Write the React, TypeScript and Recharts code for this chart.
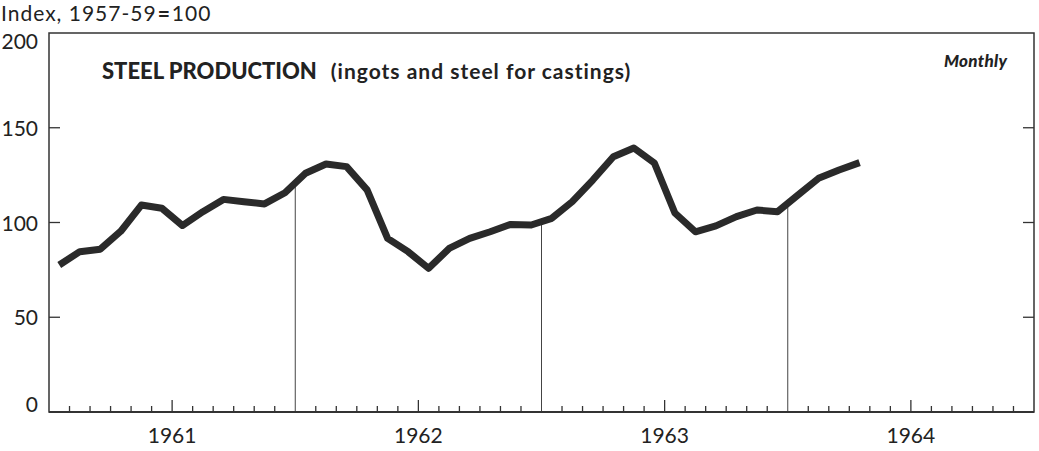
import { LineChart, Line, XAxis, YAxis, ReferenceArea, ReferenceLine } from "recharts";

// Monthly index, Jan 1961 - Apr 1964
const MONTHS_START = 1961;
const YEARS = [1961, 1962, 1963, 1964];
const VALUES = [
  77.6, 84.6, 85.9, 95.4, 109.2, 107.5, 98.4, 105.7, 112.2, 111, 109.8, 115.7,
  126, 130.9, 129.5, 117.2, 91.6, 84.6, 75.8, 86.3, 91.6, 95.1, 99, 98.7,
  102.2, 111, 122.4, 134.7, 139.3, 131.4, 105, 95.1, 98.2, 103.1, 106.6, 105.7,
  114.5, 123.3, 127.7, 131.6,
];
const Y_TICKS = [0, 50, 100, 150, 200];

const W = 1039;
const H = 451;
const PLOT_LEFT = 49;
const PLOT_RIGHT = 1034;
const PLOT_TOP = 33;
const PLOT_BOTTOM = 412;
const FONT = "Lato, 'DejaVu Sans', sans-serif";
const INK = "#222";

const data = VALUES.map((v, i) => ({ x: i + 0.5, v }));
const totalMonths = YEARS.length * 12;
const yearBounds = YEARS.slice(1).map((_, i) => (i + 1) * 12);
// month boundary ticks, year boundaries get drop lines instead
const monthTicks = Array.from({ length: totalMonths - 1 }, (_, i) => i + 1).filter(
  (m) => m % 12 !== 0
);

function XTick(props: any) {
  const { x, payload } = props;
  const mid = payload.value % 12 === 6;
  const len = mid ? 12 : 6;
  return (
    <g>
      <line x1={x} x2={x} y1={PLOT_BOTTOM} y2={PLOT_BOTTOM - len} stroke="#333" strokeWidth={1.3} />
      {mid && (
        <text x={x} y={443} textAnchor="middle" fontSize={21} fontFamily={FONT} fill={INK}>
          {MONTHS_START + Math.floor(payload.value / 12)}
        </text>
      )}
    </g>
  );
}

function YTick(props: any) {
  const { y, payload } = props;
  const v = payload.value;
  const dy = v === 200 ? 16 : v === 0 ? 0 : 8;
  const inner = v !== 0 && v !== 200;
  return (
    <g>
      <text x={38} y={y + dy} textAnchor="end" fontSize={21} fontFamily={FONT} fill={INK}>
        {v}
      </text>
      {inner && (
        <>
          <line x1={PLOT_LEFT} x2={PLOT_LEFT + 11} y1={y} y2={y} stroke="#333" strokeWidth={1.3} />
          <line x1={PLOT_RIGHT} x2={PLOT_RIGHT - 11} y1={y} y2={y} stroke="#333" strokeWidth={1.3} />
        </>
      )}
    </g>
  );
}

export default function App() {
  return (
    <div style={{ position: "absolute", left: 0, top: 0, width: W, height: H, background: "#fff" }}>
      <div
        style={{
          position: "absolute",
          left: 1,
          top: 0,
          fontFamily: FONT,
          fontSize: 21,
          letterSpacing: 1,
          color: INK,
          whiteSpace: "nowrap",
        }}
      >
        Index, 1957-59<span style={{ fontWeight: 900, margin: "0 1px" }}>=</span>100
      </div>
      <div
        style={{
          position: "absolute",
          left: 102,
          top: 57,
          fontFamily: FONT,
          color: INK,
          whiteSpace: "nowrap",
        }}
      >
        <span style={{ fontSize: 22, fontWeight: 900 }}>STEEL PRODUCTION</span>
        <span style={{ fontSize: 21, fontWeight: 700, marginLeft: 14, letterSpacing: 1 }}>
          (ingots and steel for castings)
        </span>
      </div>
      <div
        style={{
          position: "absolute",
          left: 944,
          top: 50,
          fontFamily: FONT,
          fontSize: 17,
          fontWeight: 900,
          fontStyle: "italic",
          letterSpacing: 0.3,
          color: INK,
        }}
      >
        Monthly
      </div>
      <LineChart
        width={W}
        height={H}
        data={data}
        margin={{ top: PLOT_TOP, right: W - PLOT_RIGHT, bottom: 0, left: 0 }}
      >
        <XAxis
          type="number"
          dataKey="x"
          domain={[0, totalMonths]}
          ticks={monthTicks}
          interval={0}
          height={H - PLOT_BOTTOM}
          axisLine={{ stroke: "#333", strokeWidth: 2 }}
          tickLine={false}
          tick={<XTick />}
        />
        <YAxis
          domain={[0, 200]}
          ticks={Y_TICKS}
          interval={0}
          width={PLOT_LEFT}
          axisLine={false}
          tickLine={false}
          tick={<YTick />}
        />
        <ReferenceArea
          x1={0}
          x2={totalMonths}
          y1={0}
          y2={200}
          fill="none"
          stroke="#333"
          strokeWidth={1.5}
        />
        {yearBounds.map((b) => (
          <ReferenceLine
            key={b}
            segment={[
              { x: b, y: 0 },
              { x: b, y: (VALUES[b - 1] + VALUES[b]) / 2 },
            ]}
            stroke="#444"
            strokeWidth={1}
          />
        ))}
        <Line
          type="linear"
          dataKey="v"
          stroke="#2a2a2a"
          strokeWidth={7}
          strokeLinejoin="round"
          dot={false}
          activeDot={false}
          isAnimationActive={false}
        />
      </LineChart>
    </div>
  );
}
